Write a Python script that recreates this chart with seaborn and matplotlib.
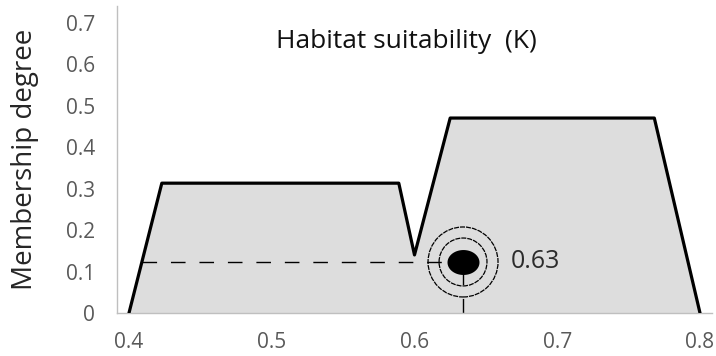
import numpy as np
import matplotlib
matplotlib.use("Agg")
import matplotlib.pyplot as plt
from matplotlib.path import Path
import seaborn as sns

# Membership function of habitat suitability (K)
suitability = [0.40, 0.423, 0.589, 0.600, 0.625, 0.768, 0.80]
membership = [0.00, 0.313, 0.313, 0.140, 0.470, 0.470, 0.00]

# Defuzzified output and its membership degree
result_x = 0.634
result_y = 0.123

x_ticks = [0.4, 0.5, 0.6, 0.7, 0.8]
x_tick_labels = ["0.4", "0.5", "0.6", "0.7", "0.8"]
y_ticks = [0, 0.1, 0.2, 0.3, 0.4, 0.5, 0.6, 0.7]
y_tick_labels = ["0", "0.1", "0.2", "0.3", "0.4", "0.5", "0.6", "0.7"]

title = "Habitat suitability  (K)"
y_label = "Membership degree"

sns.set_style("white")
plt.rcParams["font.family"] = ["Open Sans", "DejaVu Sans"]

fig = plt.figure(figsize=(7.16, 3.56), dpi=100)
ax = fig.add_axes([0.1634, 0.1208, 0.8310, 0.8622])

# shaded area under the membership curve
ax.fill_between(suitability, membership, 0, color="#dddddd", linewidth=0, zorder=1)
sns.lineplot(x=suitability, y=membership, sort=False, estimator=None,
             color="black", linewidth=2.3, ax=ax, zorder=3)

# guide lines from the output point to the curve and to the x axis
x_start = np.interp(result_y, membership[:2], suitability[:2])
ax.plot([x_start, result_x], [result_y, result_y], color="black",
        linewidth=1.0, dashes=(10.5, 10), zorder=2)
ax.plot([result_x, result_x], [0, result_y], color="black",
        linewidth=1.0, dashes=(10.5, 10), zorder=2)

# target rings and filled centre
for size in (2540, 1190):
    sns.scatterplot(x=[result_x], y=[result_y], s=size, marker="o",
                    facecolor="none", edgecolor="black", linewidth=0.9,
                    linestyle=(0, (4, 0.8)), ax=ax, zorder=4)
t = np.linspace(0, 2 * np.pi, 80)
ellipse = Path(np.column_stack([np.cos(t), 0.78 * np.sin(t)]), closed=True)
sns.scatterplot(x=[result_x], y=[result_y], s=530, marker=ellipse,
                color="black", edgecolor="black", linewidth=0, ax=ax, zorder=5)
ax.annotate(f"{result_x:.2f}", xy=(result_x, result_y), xytext=(34, 0),
            textcoords="offset points", ha="left", va="center",
            fontsize=18, color="#2b2b2b")

ax.text(0.486, 0.883, title, transform=ax.transAxes, ha="center",
        va="center", fontsize=19, color="#111111")

ax.set_xlim(0.3916, 0.8084)
ax.set_ylim(0, 0.74)
ax.set_xticks(x_ticks)
ax.set_xticklabels(x_tick_labels)
ax.set_yticks(y_ticks)
ax.set_yticklabels(y_tick_labels)
ax.tick_params(axis="both", length=0, labelsize=15, labelcolor="#595959")
ax.tick_params(axis="y", pad=16)
ax.tick_params(axis="x", pad=14)

ax.set_ylabel(y_label, fontsize=20, color="#262626", va="center")
ax.yaxis.set_label_coords(-0.155, 0.5)
ax.set_xlabel("")

for side in ("top", "right"):
    ax.spines[side].set_visible(False)
for side in ("left", "bottom"):
    ax.spines[side].set_color("#bfbfbf")
    ax.spines[side].set_linewidth(1.0)

fig.savefig("out.png", dpi=100)
